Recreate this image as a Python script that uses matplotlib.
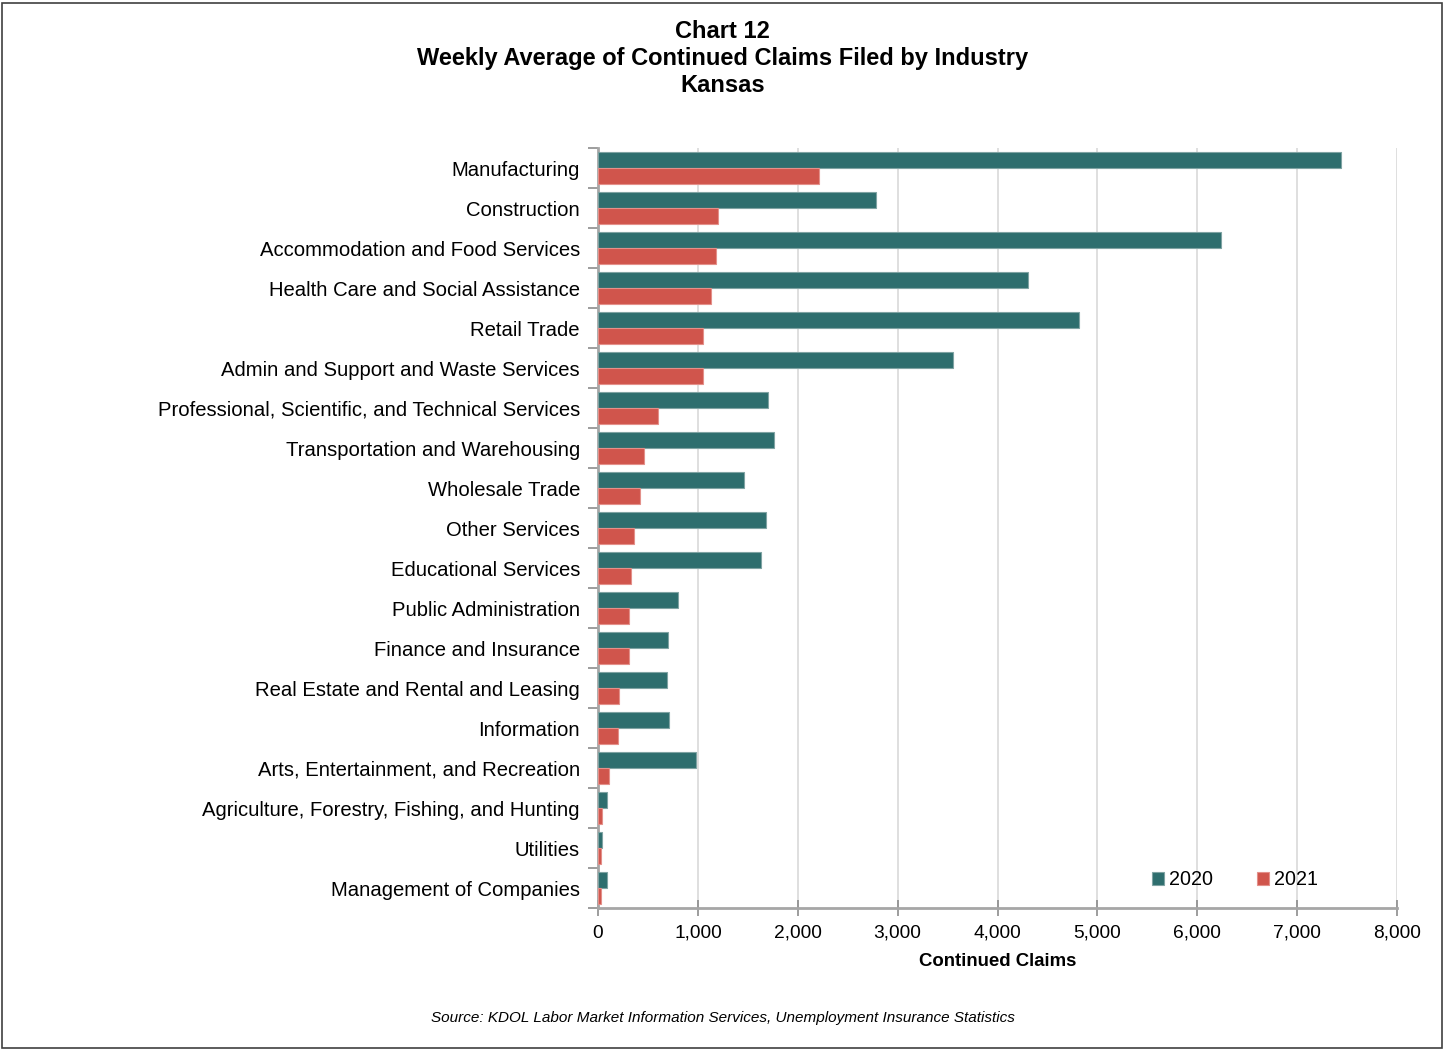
import numpy as np
import matplotlib
matplotlib.use('Agg')
import matplotlib.pyplot as plt
from matplotlib.patches import Rectangle
from matplotlib.ticker import FuncFormatter, FixedLocator

plt.rcParams['font.family'] = ['Liberation Sans', 'DejaVu Sans']

industries = [
    "Manufacturing",
    "Construction",
    "Accommodation and Food Services",
    "Health Care and Social Assistance",
    "Retail Trade",
    "Admin and Support and Waste Services",
    "Professional, Scientific, and Technical Services",
    "Transportation and Warehousing",
    "Wholesale Trade",
    "Other Services",
    "Educational Services",
    "Public Administration",
    "Finance and Insurance",
    "Real Estate and Rental and Leasing",
    "Information",
    "Arts, Entertainment, and Recreation",
    "Agriculture, Forestry, Fishing, and Hunting",
    "Utilities",
    "Management of Companies",
]
claims_2020 = [7440, 2785, 6235, 4305, 4815, 3555, 1705, 1760, 1465, 1685,
               1630, 800, 700, 690, 710, 985, 90, 45, 93]
claims_2021 = [2210, 1200, 1185, 1135, 1050, 1050, 600, 460, 425, 360,
               330, 315, 310, 210, 205, 115, 45, 30, 27]

teal = "#2E6E6E"
red = "#D0554C"

fig = plt.figure(figsize=(14.45, 10.5), dpi=100)
W, H = 1445, 1050
ax = fig.add_axes([598 / W, 1 - 908 / H, (1397 - 598) / W, (908 - 148) / H])

n = len(industries)
y = np.arange(n)
h = 0.4
ax.barh(y - h / 2, claims_2020, height=h, color=teal, edgecolor="#7FA3A3",
        linewidth=0.8, label="2020", zorder=3)
ax.barh(y + h / 2, claims_2021, height=h, color=red, edgecolor="#E3908A",
        linewidth=0.8, label="2021", zorder=3)

ax.set_ylim(n - 0.5, -0.5)
ax.set_xlim(0, 8000)
ax.xaxis.set_major_locator(FixedLocator(np.arange(0, 8001, 1000)))
ax.xaxis.set_major_formatter(FuncFormatter(lambda v, p: f"{int(v):,}"))
ax.grid(axis="x", color="#D9D9D9", linewidth=1.2, zorder=0)

# category labels centred, ticks at the boundaries between categories
ax.set_yticks(y)
ax.set_yticklabels(industries, fontsize=14.6)
ax.tick_params(axis="y", which="major", length=0, pad=13)
ax.set_yticks(np.arange(-0.5, n, 1), minor=True)
ax.tick_params(axis="y", which="minor", length=7, width=1.2, color="#8C8C8C",
               direction="out")
ax.tick_params(axis="x", length=12, width=1.2, color="#8C8C8C",
               direction="inout", labelsize=13.8, pad=6)

for side in ["top", "right"]:
    ax.spines[side].set_visible(False)
for side in ["left", "bottom"]:
    ax.spines[side].set_color("#A6A6A6")
    ax.spines[side].set_linewidth(2)

ax.set_xlabel("Continued Claims", fontsize=13.4, fontweight="bold", labelpad=8)

leg = ax.legend(loc="lower right", bbox_to_anchor=(0.923, 0.001), ncol=2,
                frameon=False, fontsize=14.2, handlelength=0.6, handleheight=0.6,
                handletextpad=0.25, columnspacing=2.25)

fig.text(0.5, 1 - 31 / H, "Chart 12", ha="center", va="center",
         fontsize=17, fontweight="bold")
fig.text(0.5, 1 - 58 / H, "Weekly Average of Continued Claims Filed by Industry",
         ha="center", va="center", fontsize=17, fontweight="bold")
fig.text(0.5, 1 - 86 / H, "Kansas", ha="center", va="center",
         fontsize=17, fontweight="bold")
fig.text(0.5, 1 - 1018 / H,
         "Source: KDOL Labor Market Information Services, Unemployment Insurance Statistics",
         ha="center", va="center", fontsize=11, style="italic")

fig.patches.append(Rectangle((2 / W, 2 / H), 1 - 5 / W, 1 - 5 / H,
                             transform=fig.transFigure, fill=False,
                             edgecolor="#404040", linewidth=1.2))

fig.savefig("out.png", dpi=100)
